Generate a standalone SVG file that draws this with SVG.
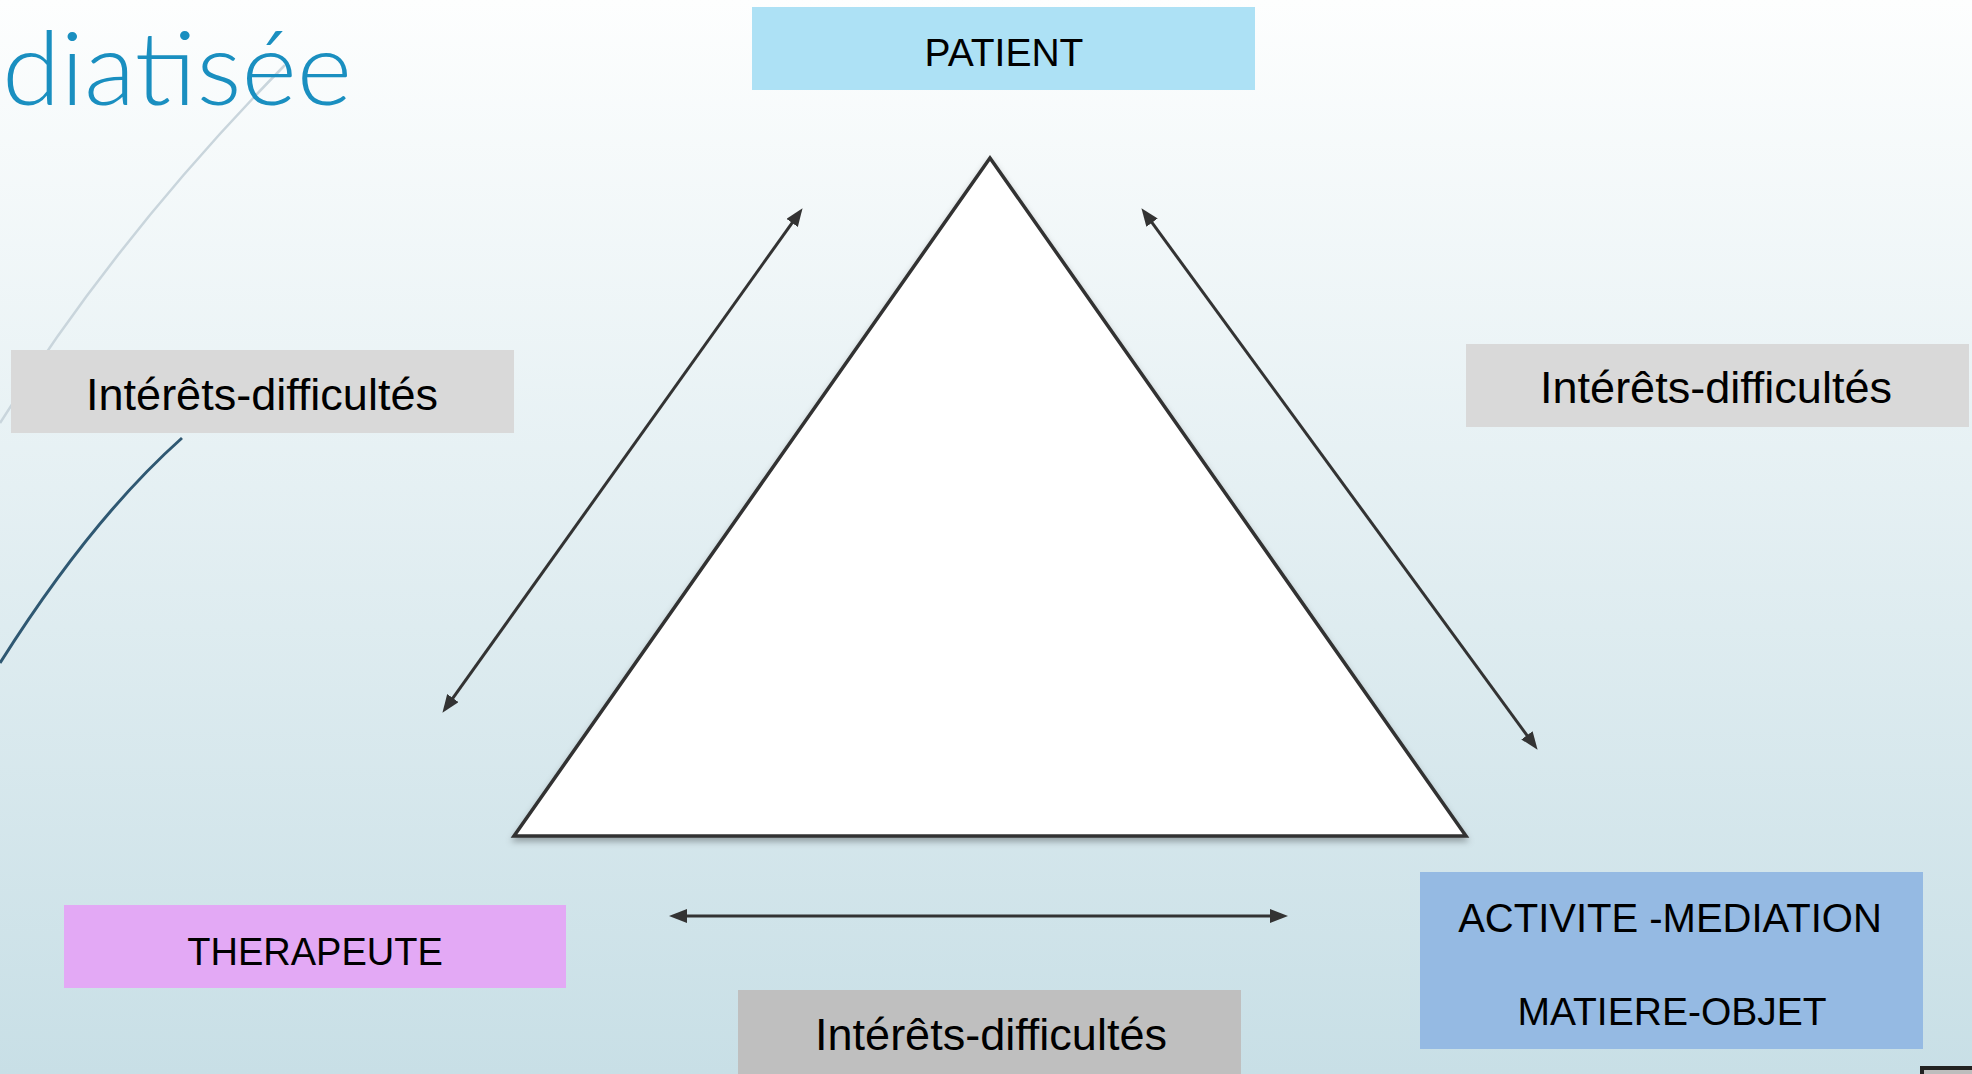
<svg xmlns="http://www.w3.org/2000/svg" width="1972" height="1074" viewBox="0 0 1972 1074">
  <defs>
    <linearGradient id="bg" x1="0" y1="0" x2="0" y2="1">
      <stop offset="0" stop-color="#fdfefe"/>
      <stop offset="1" stop-color="#c8dfe6"/>
    </linearGradient>
    <filter id="shadow" x="-10%" y="-10%" width="120%" height="125%">
      <feDropShadow dx="0" dy="4" stdDeviation="3" flood-color="#000" flood-opacity="0.3"/>
    </filter>
    <marker id="arr" viewBox="0 0 18 14" refX="5" refY="7" markerWidth="18" markerHeight="14" markerUnits="userSpaceOnUse" orient="auto-start-reverse">
      <path d="M0,0 L18,7 L0,14 z" fill="#333333"/>
    </marker>
    <style>
      .lbl { font-family: "Liberation Sans", Arial, sans-serif; fill: #000; text-anchor: middle; }
      .conn { stroke: #333333; stroke-width: 3; fill: none; marker-start: url(#arr); marker-end: url(#arr); }
    </style>
  </defs>

  <rect x="0" y="0" width="1972" height="1074" fill="url(#bg)"/>

  <!-- decorative curves -->
  <path d="M0,423 Q117,236 285,65" fill="none" stroke="#c9d5dc" stroke-width="2.5"/>
  <path d="M0,663 Q91,519 182,438" fill="none" stroke="#2f5872" stroke-width="3"/>

  <!-- title fragment -->
  <text x="2" y="105" textLength="350" lengthAdjust="spacingAndGlyphs" font-family="Lato, 'Open Sans', sans-serif" font-weight="300" font-size="102" fill="#1a8fc0">diatisée</text>

  <!-- triangle -->
  <g id="triangle">
    <polygon points="990,158 514,836 1466,836" fill="#ffffff" stroke="#333333" stroke-width="3.5" stroke-linejoin="miter" filter="url(#shadow)"/>
  </g>

  <g id="connectors">
    <line class="conn" x1="795.0" y1="218.8" x2="450.0" y2="702.2"/>
    <line class="conn" x1="1149.1" y1="218.7" x2="1529.9" y2="739.3"/>
    <line class="conn" x1="682" y1="916" x2="1275" y2="916"/>
  </g>

  <g id="patient">
    <rect x="752" y="7" width="503" height="83" fill="#ade1f5"/>
    <text class="lbl" x="1004" y="66" font-size="39">PATIENT</text>
  </g>

  <g id="label-left">
    <rect x="11" y="350" width="503" height="83" fill="#d9d9d9"/>
    <text class="lbl" x="262" y="410" font-size="45">Intérêts-difficultés</text>
  </g>

  <g id="label-right">
    <rect x="1466" y="344" width="503" height="83" fill="#d9d9d9"/>
    <text class="lbl" x="1716" y="403" font-size="45">Intérêts-difficultés</text>
  </g>

  <g id="therapeute">
    <rect x="64" y="905" width="502" height="83" fill="#e3a9f5"/>
    <text class="lbl" x="315" y="965" font-size="38">THERAPEUTE</text>
  </g>

  <g id="label-bottom">
    <rect x="738" y="990" width="503" height="84" fill="#bfbfbf"/>
    <text class="lbl" x="991" y="1050" font-size="45">Intérêts-difficultés</text>
  </g>

  <g id="activite">
    <rect x="1420" y="872" width="503" height="177" fill="#95bae3"/>
    <text class="lbl" x="1670" y="932" font-size="40">ACTIVITE -MEDIATION</text>
    <text class="lbl" x="1672" y="1025" font-size="39">MATIERE-OBJET</text>
  </g>

  <rect x="1922" y="1068" width="60" height="20" fill="#bdbdbd" stroke="#222222" stroke-width="4"/>
</svg>
